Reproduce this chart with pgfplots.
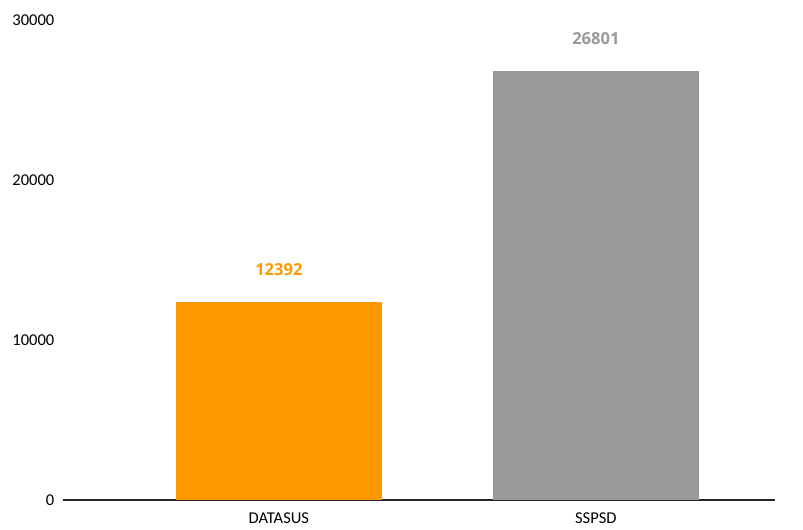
\documentclass[border=0pt]{standalone}
\usepackage{fontspec}
\setmainfont{Carlito}
\newfontfamily\labfont{Open Sans}
\usepackage{pgfplots}
\pgfplotsset{compat=1.18}
\definecolor{bOrange}{HTML}{FF9900}
\definecolor{bGray}{HTML}{999999}
\begin{document}
\begin{tikzpicture}[x=1pt,y=1pt]
\path (0,0) rectangle (602.25pt,397.5pt);
\begin{axis}[
  at={(47.25pt,22.5pt)}, anchor=south west,
  scale only axis, width=534pt, height=360pt,
  xmin=-0.681, xmax=1.565, ymin=0, ymax=30000,
  axis lines=none,
  ytick={0,10000,20000,30000},
  xtick={0,1}, xticklabels={DATASUS,SSPSD},
  tick style={draw=none},
  every tick label/.append style={font=\fontsize{12.4}{14}\selectfont, text=black},
  /pgf/number format/assume math mode=true,
  scaled y ticks=false,
  yticklabel style={/pgf/number format/1000 sep={}, anchor=east, xshift=-3pt},
  xticklabel style={yshift=-2pt},
  clip=false,
  ybar, bar width=0.65, bar shift=0pt,
  nodes near coords,
  nodes near coords style={font=\labfont\bfseries\fontsize{12.4}{14}\selectfont, /pgf/number format/1000 sep={}, yshift=16pt},
  hide axis=false,
  separate axis lines,
  x axis line style={draw=none},
  y axis line style={draw=none},
]
\draw[black!85, line width=0.8pt] (axis cs:-0.681,0) -- (axis cs:1.565,0);
\addplot[fill=bOrange, draw=none, nodes near coords style={text=bOrange}] coordinates {(0,12392)};
\addplot[fill=bGray, draw=none, nodes near coords style={text=bGray}] coordinates {(1,26801)};
\end{axis}
\end{tikzpicture}
\end{document}
